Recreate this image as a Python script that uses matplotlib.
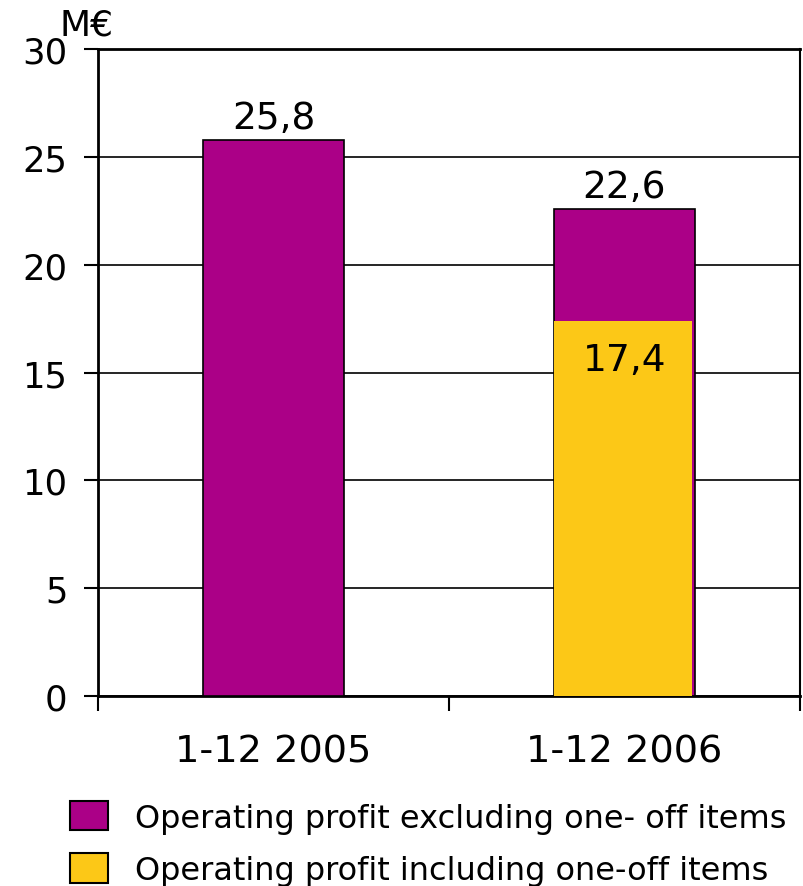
import matplotlib.pyplot as plt
from matplotlib.patches import Patch

# operating profit, M€
periods = ["1-12 2005", "1-12 2006"]
excl_one_off = [25.8, 22.6]
incl_one_off = [None, 17.4]
labels = ["Operating profit excluding one- off items",
          "Operating profit including one-off items"]

purple = "#AB0087"
yellow = "#FCC817"

plt.rcParams["font.family"] = "DejaVu Sans"

fig = plt.figure(figsize=(8.04, 8.87), dpi=100)
ax = fig.add_axes([0.1219, 0.2142, 0.8731, 0.7294])

x = list(range(len(periods)))
ax.bar(x, excl_one_off, width=0.40, color=purple, edgecolor="black",
       linewidth=1.2, zorder=3)
for i, v in enumerate(incl_one_off):
    if v is not None:
        ax.bar(i - 0.004, v, width=0.392, color=yellow, edgecolor="none",
               zorder=4)
        ax.text(i, v - 1.0, f"{v:.1f}".replace(".", ","), ha="center",
                va="top", fontsize=27, zorder=5)

for i, v in enumerate(excl_one_off):
    ax.text(i, v + 0.15, f"{v:.1f}".replace(".", ","), ha="center",
            va="bottom", fontsize=27, zorder=5)

ax.set_xlim(-0.5, 1.5)
ax.set_ylim(0, 30)
ax.set_yticks(range(0, 31, 5))
ax.yaxis.grid(True, color="black", linewidth=1.2, zorder=0)
ax.set_axisbelow(True)

ax.set_xticks(x)
ax.set_xticklabels(periods, fontsize=27.5)
ax.tick_params(axis="x", which="major", length=0, pad=27)
ax.set_xticks([-0.5, 0.5, 1.5], minor=True)
ax.tick_params(axis="x", which="minor", length=11, width=1.5, direction="out")
ax.tick_params(axis="y", labelsize=25.5, length=10, width=1.5, pad=12)

for side in ["left", "bottom", "top"]:
    ax.spines[side].set_linewidth(2)
ax.spines["right"].set_linewidth(1.5)

ax.text(-0.055, 1.012, "M€", transform=ax.transAxes, fontsize=26,
        ha="left", va="bottom")

handles = [Patch(facecolor=purple, edgecolor="black", linewidth=1.5),
           Patch(facecolor=yellow, edgecolor="black", linewidth=1.5)]
fig.legend(handles, labels, loc="upper left", bbox_to_anchor=(0.067, 0.114),
           frameon=False, fontsize=23, handlelength=1.2, handleheight=1.05,
           handletextpad=0.85, labelspacing=0.62, borderpad=0)

fig.savefig("out.png", dpi=100)
